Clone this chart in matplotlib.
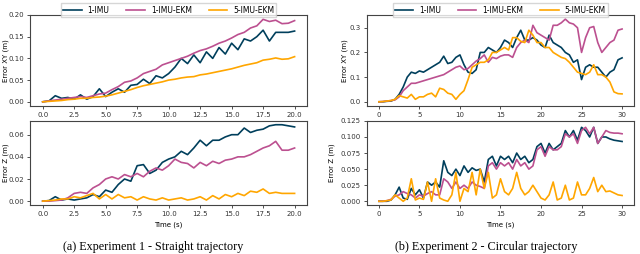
import numpy as np
import matplotlib.pyplot as plt

# time grids (s)
t_straight = np.arange(0, 20.01, 0.5)
t_circular = np.arange(0, 30.01, 0.5)

labels = ["1-IMU", "1-IMU-EKM", "5-IMU-EKM"]
colors = ["#003f5c", "#bc5090", "#ffa600"]

# Experiment 1 - straight trajectory
s_xy_imu = [0, 0.002, 0.014, 0.008, 0.01, 0.006, 0.016, 0.006, 0.012, 0.03,
            0.012, 0.022, 0.03, 0.022, 0.038, 0.04, 0.052, 0.042, 0.06, 0.055,
            0.065, 0.08, 0.1, 0.088, 0.108, 0.09, 0.115, 0.1, 0.125, 0.11,
            0.135, 0.12, 0.145, 0.14, 0.15, 0.165, 0.14, 0.16, 0.16, 0.16, 0.163]
s_xy_ekm = [0, 0.002, 0.004, 0.006, 0.008, 0.01, 0.012, 0.01, 0.014, 0.018,
            0.02, 0.028, 0.035, 0.045, 0.048, 0.055, 0.065, 0.07, 0.075, 0.085,
            0.09, 0.095, 0.1, 0.105, 0.112, 0.118, 0.122, 0.128, 0.135, 0.14,
            0.147, 0.155, 0.16, 0.17, 0.175, 0.19, 0.185, 0.188, 0.18, 0.181, 0.187]
s_xy_5ekm = [0, 0.001, 0.002, 0.003, 0.005, 0.006, 0.008, 0.008, 0.01, 0.011,
             0.013, 0.016, 0.02, 0.024, 0.028, 0.033, 0.037, 0.04, 0.043, 0.046,
             0.05, 0.052, 0.055, 0.057, 0.058, 0.062, 0.064, 0.067, 0.07, 0.073,
             0.076, 0.08, 0.084, 0.087, 0.09, 0.096, 0.098, 0.101, 0.098, 0.099, 0.104]

s_z_imu = [0, 0.0005, 0.004, 0.001, 0.002, 0.001, 0.002, 0.003, 0.006, 0.004,
           0.01, 0.008, 0.015, 0.02, 0.018, 0.032, 0.033, 0.025, 0.028, 0.035,
           0.038, 0.04, 0.045, 0.042, 0.048, 0.055, 0.05, 0.055, 0.055, 0.058,
           0.06, 0.06, 0.066, 0.062, 0.064, 0.065, 0.068, 0.069, 0.069, 0.068, 0.067]
s_z_ekm = [0, 0, 0.0005, 0.001, 0.003, 0.007, 0.008, 0.007, 0.012, 0.015,
           0.02, 0.022, 0.02, 0.024, 0.022, 0.025, 0.022, 0.027, 0.03, 0.028,
           0.032, 0.038, 0.035, 0.034, 0.03, 0.035, 0.032, 0.036, 0.034, 0.037,
           0.038, 0.04, 0.04, 0.042, 0.045, 0.048, 0.05, 0.054, 0.046, 0.046, 0.048]
s_z_5ekm = [0, 0.0005, 0.001, 0.002, 0.002, 0.004, 0.003, 0.005, 0.007, 0.002,
            0.006, 0.002, 0.006, 0.003, 0.004, 0.001, 0.004, 0.002, 0.001, 0.003,
            0.001, 0.002, 0.003, 0.001, 0.002, 0.004, 0.001, 0.005, 0.002, 0.006,
            0.004, 0.007, 0.005, 0.009, 0.008, 0.011, 0.007, 0.008, 0.007, 0.007, 0.007]

# Experiment 2 - circular trajectory
c_xy_imu = [0, 0, 0.002, 0.003, 0.01, 0.03, 0.06, 0.1, 0.12, 0.115,
            0.125, 0.12, 0.13, 0.14, 0.15, 0.16, 0.185, 0.155, 0.16, 0.18,
            0.19, 0.15, 0.12, 0.115, 0.13, 0.2, 0.2, 0.22, 0.21, 0.2,
            0.22, 0.25, 0.24, 0.22, 0.26, 0.29, 0.25, 0.25, 0.26, 0.25,
            0.23, 0.22, 0.27, 0.24, 0.23, 0.22, 0.2, 0.19, 0.16, 0.17,
            0.09, 0.14, 0.15, 0.14, 0.14, 0.12, 0.1, 0.12, 0.13, 0.17, 0.178]
c_xy_ekm = [0, 0.001, 0.003, 0.005, 0.008, 0.02, 0.045, 0.06, 0.075, 0.075,
            0.08, 0.085, 0.09, 0.095, 0.1, 0.105, 0.11, 0.12, 0.13, 0.14,
            0.145, 0.13, 0.135, 0.15, 0.165, 0.175, 0.19, 0.16, 0.18, 0.175,
            0.185, 0.19, 0.19, 0.18, 0.22, 0.24, 0.25, 0.24, 0.31, 0.28,
            0.27, 0.26, 0.25, 0.31, 0.31, 0.32, 0.335, 0.32, 0.315, 0.3,
            0.2, 0.26, 0.3, 0.305, 0.24, 0.2, 0.22, 0.24, 0.25, 0.29, 0.295]
c_xy_5ekm = [0, 0.001, 0.003, 0.005, 0.01, 0.025, 0.02, 0.015, 0.03, 0.01,
             0.02, 0.02, 0.03, 0.035, 0.02, 0.055, 0.05, 0.035, 0.03, 0.01,
             0.03, 0.045, 0.09, 0.14, 0.15, 0.16, 0.16, 0.17, 0.2, 0.2,
             0.21, 0.22, 0.21, 0.26, 0.26, 0.245, 0.24, 0.29, 0.27, 0.24,
             0.24, 0.22, 0.22, 0.2, 0.19, 0.18, 0.175, 0.16, 0.14, 0.12,
             0.115, 0.11, 0.12, 0.15, 0.11, 0.11, 0.1, 0.08, 0.04, 0.033, 0.032]

c_z_imu = [0, 0, 0, 0.002, 0.01, 0.022, 0.005, 0.003, 0.02, 0.01,
           0.018, 0.005, 0.03, 0.025, 0.03, 0.022, 0.063, 0.045, 0.04, 0.05,
           0.04, 0.055, 0.045, 0.052, 0.048, 0.05, 0.03, 0.065, 0.07, 0.055,
           0.07, 0.065, 0.07, 0.06, 0.075, 0.065, 0.07, 0.06, 0.065, 0.085,
           0.09, 0.075, 0.09, 0.08, 0.085, 0.09, 0.11, 0.1, 0.11, 0.095,
           0.115, 0.11, 0.1, 0.115, 0.09, 0.1, 0.1, 0.097, 0.095, 0.094, 0.093]
c_z_ekm = [0, 0, 0.001, 0.003, 0.008, 0.01, 0.015, 0.012, 0.01, 0.005,
           0.01, 0.008, 0.012, 0.015, 0.01, 0.01, 0.035, 0.03, 0.02, 0.03,
           0.02, 0.025, 0.02, 0.03, 0.025, 0.023, 0.02, 0.055, 0.06, 0.05,
           0.06, 0.055, 0.06, 0.05, 0.065, 0.055, 0.06, 0.05, 0.055, 0.08,
           0.085, 0.07, 0.085, 0.08, 0.08, 0.085, 0.105, 0.1, 0.105, 0.09,
           0.11, 0.115, 0.105, 0.115, 0.09, 0.1, 0.11, 0.107, 0.106, 0.106, 0.105]
c_z_5ekm = [0, 0, 0.001, 0.002, 0.01, 0.005, 0.0, 0.005, 0.035, 0.002,
            0.005, 0.003, 0.03, 0.0, 0.035, 0.005, 0.002, 0.0, 0.01, 0.045,
            0.0, 0.02, 0.015, 0.045, 0.01, 0.05, 0.02, 0.045, 0.005, 0.01,
            0.035, 0.015, 0.01, 0.02, 0.045, 0.02, 0.01, 0.015, 0.025, 0.015,
            0.005, 0.002, 0.01, 0.03, 0.002, 0.005, 0.025, 0.002, 0.005, 0.03,
            0.01, 0.01, 0.02, 0.037, 0.015, 0.025, 0.015, 0.016, 0.013, 0.01, 0.009]

fig = plt.figure(figsize=(6.4, 2.54), dpi=100)
plt.rcParams['font.size'] = 5

def make_ax(rect, t, series, ylabel, yticks, fmt, xticks, xfmt, label_x,
            legend=False, xlabel=False):
    ax = fig.add_axes(rect)
    for y, c, lab in zip(series, colors, labels):
        ax.plot(t, y, color=c, lw=1.2, label=lab)
    ax.set_yticks(yticks)
    ax.set_yticklabels([fmt.format(v) for v in yticks])
    ax.set_xticks(xticks)
    ax.set_xticklabels([xfmt.format(v) for v in xticks])
    ax.set_ylabel(ylabel, fontsize=5)
    ax.yaxis.set_label_coords(label_x, 0.5)
    ax.tick_params(labelsize=5, length=2.5, width=0.6, pad=2, colors='#333333')
    for sp in ax.spines.values():
        sp.set_color('#444444')
        sp.set_linewidth(0.8)
    if xlabel:
        ax.set_xlabel("Time (s)", fontsize=5, labelpad=3)
    if legend:
        ax.legend(loc='lower center', bbox_to_anchor=(0.5, 0.98), ncol=3,
                  fontsize=5.5, frameon=True, fancybox=False, edgecolor='#cccccc',
                  handlelength=2.4, columnspacing=2.2, borderpad=0.3,
                  borderaxespad=0.0)
    return ax

xt1 = [0, 2.5, 5, 7.5, 10, 12.5, 15, 17.5, 20]
xt2 = [0, 5, 10, 15, 20, 25, 30]

make_ax([0.047, 0.583, 0.433, 0.358], t_straight, [s_xy_imu, s_xy_ekm, s_xy_5ekm],
        "Error XY (m)", [0, 0.05, 0.10, 0.15, 0.20], "{:.2f}", xt1, "{:.1f}", -0.075,
        legend=True)
make_ax([0.047, 0.193, 0.433, 0.331], t_straight, [s_z_imu, s_z_ekm, s_z_5ekm],
        "Error Z (m)", [0, 0.02, 0.04, 0.06], "{:.2f}", xt1, "{:.1f}", -0.075,
        xlabel=True)
make_ax([0.573, 0.583, 0.418, 0.358], t_circular, [c_xy_imu, c_xy_ekm, c_xy_5ekm],
        "Error XY (m)", [0, 0.1, 0.2, 0.3], "{:.1f}", xt2, "{:.0f}", -0.07,
        legend=True)
make_ax([0.573, 0.193, 0.418, 0.331], t_circular, [c_z_imu, c_z_ekm, c_z_5ekm],
        "Error Z (m)", [0, 0.025, 0.05, 0.075, 0.1, 0.125], "{:.3f}", xt2, "{:.0f}", -0.12,
        xlabel=True)

fig.text(0.239, 0.028, "(a) Experiment 1 - Straight trajectory", ha='center', va='center',
         fontsize=8.7, family='Liberation Serif')
fig.text(0.759, 0.028, "(b) Experiment 2 - Circular trajectory", ha='center', va='center',
         fontsize=8.7, family='Liberation Serif')

fig.savefig("out.png", dpi=100)
